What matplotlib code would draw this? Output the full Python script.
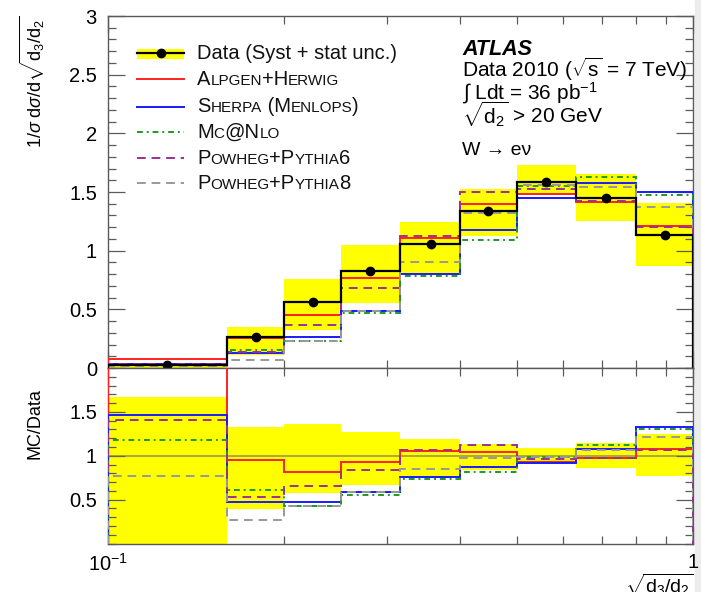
import matplotlib
matplotlib.use("Agg")
import matplotlib.pyplot as plt
from matplotlib.patches import Rectangle
from matplotlib.lines import Line2D
from matplotlib.ticker import FixedLocator, FixedFormatter
from matplotlib.offsetbox import TextArea, HPacker, AnnotationBbox


plt.rcParams['font.family'] = ['Liberation Sans', 'DejaVu Sans']
plt.rcParams['mathtext.fontset'] = 'custom'
plt.rcParams['mathtext.rm'] = 'Liberation Sans'
plt.rcParams['mathtext.it'] = 'Liberation Sans:italic'
plt.rcParams['mathtext.bf'] = 'Liberation Sans:bold'

# bins in sqrt(d3/d2)
edges = [0.1, 0.16, 0.2, 0.25, 0.316, 0.4, 0.5, 0.63, 0.8, 1.0]
centers = [0.126, 0.179, 0.224, 0.281, 0.356, 0.447, 0.561, 0.71, 0.894]

# normalised cross section
data = [0.025, 0.262, 0.56, 0.824, 1.054, 1.341, 1.588, 1.452, 1.134]
data_hi = [0.042, 0.347, 0.756, 1.049, 1.247, 1.523, 1.733, 1.654, 1.409]
data_lo = [0.0, 0.115, 0.324, 0.557, 0.807, 1.125, 1.489, 1.256, 0.870]

alpgen = [0.077, 0.255, 0.452, 0.77, 1.105, 1.398, 1.48, 1.412, 1.21]
sherpa = [0.036, 0.13, 0.267, 0.486, 0.80, 1.176, 1.452, 1.574, 1.503]
mcnlo = [0.029, 0.153, 0.233, 0.466, 0.78, 1.091, 1.552, 1.626, 1.475]
powheg6 = [0.035, 0.136, 0.367, 0.685, 1.123, 1.50, 1.529, 1.424, 1.205]
powheg8 = [0.019, 0.068, 0.233, 0.49, 0.90, 1.319, 1.56, 1.54, 1.375]

# MC/Data
ratio_hi = [1.664, 1.332, 1.358, 1.27, 1.187, 1.136, 1.091, 1.141, 1.244]
ratio_lo = [0.0, 0.393, 0.576, 0.671, 0.766, 0.839, 0.938, 0.862, 0.766]
alpgen_r = [3.1, 0.95, 0.812, 0.931, 1.053, 1.041, 0.931, 0.975, 1.072]
sherpa_r = [1.465, 0.469, 0.473, 0.588, 0.759, 0.874, 0.912, 1.08, 1.332]
mcnlo_r = [1.179, 0.606, 0.423, 0.549, 0.736, 0.812, 0.988, 1.118, 1.301]
powheg6_r = [1.404, 0.526, 0.66, 0.843, 1.061, 1.118, 0.958, 0.98, 1.065]
powheg8_r = [0.766, 0.27, 0.423, 0.588, 0.851, 0.977, 0.988, 1.064, 1.213]

YELLOW = '#ffff00'
styles = [
    ("Alpgen+Herwig", '#ff2020', '-'),
    ("Sherpa (Menlops)", '#1a1aff', '-'),
    ("Mc@Nlo", '#1f9a1f', (0, (3, 2, 1, 2))),
    ("Powheg+Pythia6", '#9c2f96', (0, (4.5, 3))),
    ("Powheg+Pythia8", '#999999', (0, (4.5, 3))),
]
mc_top = [alpgen, sherpa, mcnlo, powheg6, powheg8]
mc_bot = [alpgen_r, sherpa_r, mcnlo_r, powheg6_r, powheg8_r]

W, H = 701, 592
fig = plt.figure(figsize=(W / 100, H / 100), dpi=100)
ax = fig.add_axes([108 / W, 1 - 368 / H, 585 / W, 352 / H])
ax2 = fig.add_axes([108 / W, 1 - 543.5 / H, 585 / W, 175.5 / H], sharex=ax)

fig.patches.append(Rectangle((695 / W, 0), 6 / W, 1, transform=fig.transFigure,
                             color='#ececec', zorder=-5))

# upper panel
ax.stairs(data_hi, edges, baseline=data_lo, fill=True, color=YELLOW, lw=0, zorder=1)
for vals, (name, col, ls) in zip(mc_top, styles):
    ax.stairs(vals, edges, color=col, linestyle=ls, lw=1.4, zorder=3)
ax.stairs(data, edges, color='black', lw=1.6, zorder=4)
ax.plot(centers, data, 'o', color='black', ms=6, zorder=5)

# ratio panel
ax2.stairs(ratio_hi, edges, baseline=ratio_lo, fill=True, color=YELLOW, lw=0, zorder=1)
ax2.axhline(1.0, color='#707070', lw=1.2, alpha=0.7, zorder=2)
for vals, (name, col, ls) in zip(mc_bot, styles):
    ax2.stairs(vals, edges, color=col, linestyle=ls, lw=1.4, zorder=3)

ax.set_xscale('log')
ax.set_xlim(0.1, 1.0)
ax.set_ylim(0, 3)
ax2.set_ylim(0, 2.0)

minor_x = [0.2, 0.3, 0.4, 0.5, 0.6, 0.7, 0.8, 0.9]
for a in (ax, ax2):
    a.xaxis.set_major_locator(FixedLocator([0.1, 1.0]))
    a.xaxis.set_minor_locator(FixedLocator(minor_x))
    a.xaxis.set_minor_formatter(FixedFormatter([''] * len(minor_x)))
    for s in a.spines.values():
        s.set_color('#5a5a5a')
        s.set_linewidth(1.0)
    a.tick_params(which='both', direction='in', top=True, right=True,
                  color='#5a5a5a', labelsize=14.5, width=0.9)
    a.tick_params(axis='y', which='major', length=12, pad=8)
    a.tick_params(axis='y', which='minor', length=6)
    a.tick_params(axis='x', which='major', length=12, pad=7)
    a.tick_params(axis='x', which='minor', length=6)

ax.xaxis.set_major_formatter(FixedFormatter(['', '']))
ax.tick_params(axis='x', labelbottom=False)
ax2.xaxis.set_major_formatter(FixedFormatter([r'$10^{-1}$', '1']))

ax.yaxis.set_major_locator(FixedLocator([0, 0.5, 1, 1.5, 2, 2.5, 3]))
ax.yaxis.set_major_formatter(FixedFormatter(['0', '0.5', '1', '1.5', '2', '2.5', '3']))
ax.yaxis.set_minor_locator(FixedLocator([i / 10 for i in range(31)]))
ax2.yaxis.set_major_locator(FixedLocator([0.5, 1, 1.5]))
ax2.yaxis.set_major_formatter(FixedFormatter(['0.5', '1', '1.5']))
ax2.yaxis.set_minor_locator(FixedLocator([i / 10 for i in range(21)]))

# axis titles
fig.text(32 / W, 1 - 16 / H, r'1/$\sigma$ d$\sigma$/d$\sqrt{\mathrm{d_3/d_2}}$',
         rotation=90, ha='center', va='top', fontsize=13)
fig.text(35 / W, 1 - 424 / H, 'MC/Data', rotation=90, ha='center', va='center',
         fontsize=13)
fig.text(693 / W, 1 - 572 / H, r'$\sqrt{\mathrm{d_3/d_2}}$', ha='right', va='top',
         fontsize=14)


def axfrac(x, y):
    return (x - 108) / 585, (368 - y) / 352


def smallcaps(s, size, ratio=0.76):
    # uppercase letters at full size, lowercase drawn as smaller capitals
    pieces = []
    buf, small = '', None
    for ch in s:
        sm = ch.islower()
        if small is not None and sm != small:
            pieces.append((buf, small))
            buf = ''
        buf += ch
        small = sm
    pieces.append((buf, small))
    kids = []
    for txt, sm in pieces:
        fs = size * ratio if sm else size
        kids.append(TextArea(txt.upper(), textprops=dict(fontsize=fs, color='#111111')))
    return HPacker(children=kids, align='baseline', pad=0, sep=0)


# legend
rows_y = [53.3, 79.3, 106.7, 132.3, 158.3, 183.3]
x0, x1 = axfrac(137, 0)[0], axfrac(184, 0)[0]
xt = axfrac(197, 0)[0]

yb_top = axfrac(0, 49)[1]
yb_bot = axfrac(0, 58.5)[1]
ax.add_patch(Rectangle((x0, yb_bot), x1 - x0, yb_top - yb_bot, transform=ax.transAxes,
                       color=YELLOW, zorder=6, lw=0))
fy = axfrac(0, rows_y[0])[1]
ax.add_line(Line2D([x0, x1], [fy, fy], transform=ax.transAxes, color='black', lw=1.6,
                   zorder=7))
ax.add_line(Line2D([(x0 + x1) / 2], [fy], transform=ax.transAxes, color='black',
                   marker='o', ms=6, zorder=8))
ax.text(xt, fy, 'Data (Syst + stat unc.)', transform=ax.transAxes, fontsize=14.5,
        va='center', ha='left', color='#111111', zorder=8)

for y, (name, col, ls) in zip(rows_y[1:], styles):
    fy = axfrac(0, y)[1]
    ax.add_line(Line2D([x0, x1], [fy, fy], transform=ax.transAxes, color=col,
                       linestyle=ls, lw=1.4, zorder=7))
    ab = AnnotationBbox(smallcaps(name, 14.5), (xt, fy), xycoords='axes fraction',
                        box_alignment=(0, 0.5), frameon=False, pad=0, zorder=8)
    ax.add_artist(ab)

# experiment labels
xl = axfrac(462, 0)[0]
ax.text(xl, axfrac(0, 55)[1], 'ATLAS', transform=ax.transAxes, fontsize=15.5,
        fontweight='bold', style='italic', va='baseline')
ax.text(xl, axfrac(0, 77)[1], r'Data 2010 ($\sqrt{\mathrm{s}}$ = 7 TeV)',
        transform=ax.transAxes, fontsize=15, va='baseline')
ax.text(xl, axfrac(0, 99)[1], r'$\int$ Ldt = 36 pb$^{-1}$',
        transform=ax.transAxes, fontsize=15, va='baseline')
ax.text(xl, axfrac(0, 123)[1], r'$\sqrt{\mathrm{d_2}}$ > 20 GeV',
        transform=ax.transAxes, fontsize=15, va='baseline')
ax.text(xl, axfrac(0, 155)[1], 'W → eν',
        transform=ax.transAxes, fontsize=14, va='baseline')

fig.savefig('out.png', dpi=100)
